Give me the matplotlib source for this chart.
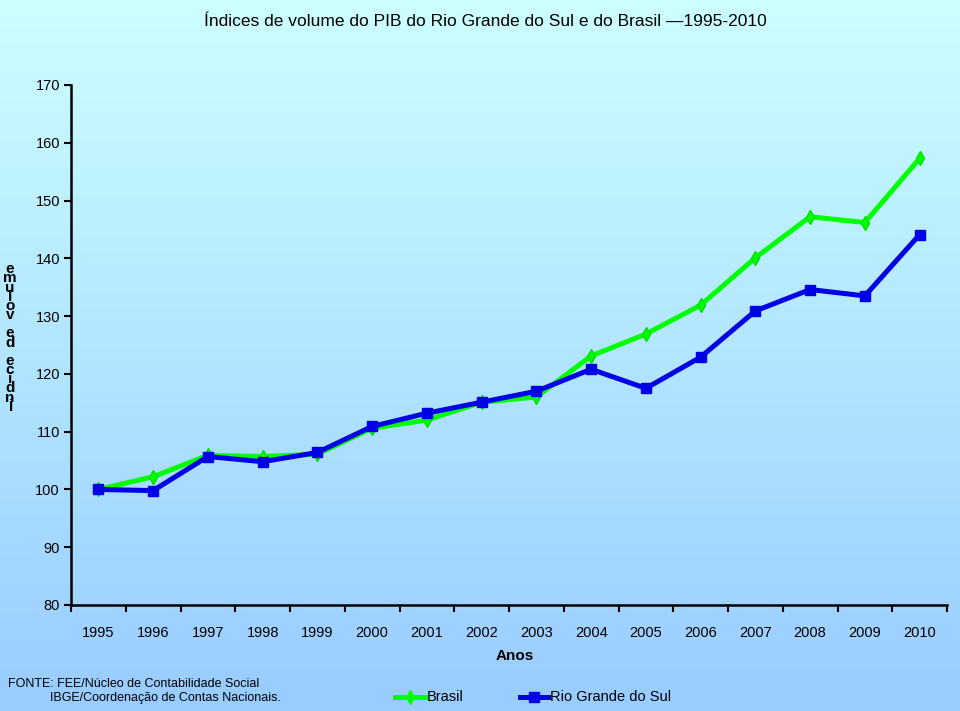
import numpy as np
import matplotlib
matplotlib.use("Agg")
import matplotlib.pyplot as plt
from matplotlib.lines import Line2D
from matplotlib import font_manager

years = ["1995", "1996", "1997", "1998", "1999", "2000", "2001", "2002",
         "2003", "2004", "2005", "2006", "2007", "2008", "2009", "2010"]
brasil = [100.0, 102.2, 105.9, 105.7, 106.1, 110.6, 112.0, 115.1,
          116.0, 123.1, 126.9, 131.9, 140.1, 147.2, 146.2, 157.3]
rgs = [100.0, 99.8, 105.7, 104.8, 106.4, 110.9, 113.2, 115.1,
       117.0, 120.8, 117.5, 122.9, 130.9, 134.6, 133.5, 144.1]
yticks = [80, 90, 100, 110, 120, 130, 140, 150, 160, 170]

names = {f.name for f in font_manager.fontManager.ttflist}
fam = "Liberation Sans Narrow" if "Liberation Sans Narrow" in names else "Liberation Sans"
plt.rcParams["font.family"] = [fam, "DejaVu Sans"]

GREEN = "#00FF00"
BLUE = "#0000E6"

fig = plt.figure(figsize=(9.6, 7.11), dpi=100)

# background gradient
bg = fig.add_axes([0, 0, 1, 1], zorder=-10)
grad = np.linspace(0, 1, 256).reshape(-1, 1)
top = np.array([204, 255, 255]) / 255
bot = np.array([153, 204, 255]) / 255
img = top[None, None, :] * (1 - grad[:, :, None]) + bot[None, None, :] * grad[:, :, None]
bg.imshow(img, aspect="auto", extent=[0, 1, 0, 1], origin="upper")
bg.set_axis_off()

ax = fig.add_axes([71 / 960, 1 - 605 / 711, (947 - 71) / 960, (605 - 85) / 711])
ax.patch.set_alpha(0)
x = np.arange(len(years))
ax.plot(x, brasil, color=GREEN, lw=3.6, marker="d", ms=7, mec="#00E000",
        label="Brasil", zorder=3)
ax.plot(x, rgs, color=BLUE, lw=3.6, marker="s", ms=7.5,
        label="Rio Grande do Sul", zorder=4)

ax.set_xlim(-0.5, len(years) - 0.5)
ax.set_ylim(80, 170)
ax.set_yticks(yticks)
ax.set_yticklabels([str(v) for v in yticks], fontsize=10.5)
ax.set_xticks(x)
ax.set_xticklabels(years, fontsize=10.5)
ax.tick_params(axis="x", which="major", length=0, pad=15)
ax.set_xticks(np.arange(-0.5, len(years), 1.0), minor=True)
ax.tick_params(axis="x", which="minor", length=5, width=1.5, direction="out")
ax.tick_params(axis="y", length=5, width=1.5, direction="out", pad=3)
for s in ["top", "right"]:
    ax.spines[s].set_visible(False)
for s in ["left", "bottom"]:
    ax.spines[s].set_linewidth(1.8)

fig.text(485 / 960, 1 - 22 / 711,
         "Índices de volume do PIB do Rio Grande do Sul e do Brasil —1995-2010",
         ha="center", va="center", fontsize=12.5)
fig.text(515 / 960, 1 - 656 / 711, "Anos", ha="center", va="center",
         fontsize=11, fontweight="bold")

# stacked y-axis label (as rendered in the original): one multi-line text
ylab = "Índice de volume"
stacked = "\n".join(reversed(ylab))
fig.text(10 / 960, 1 - 338 / 711, stacked, ha="center", va="center",
         fontsize=11, fontweight="bold", linespacing=0.56, multialignment="center")

fig.text(8 / 960, 1 - 684 / 711, "FONTE: FEE/Núcleo de Contabilidade Social",
         ha="left", va="center", fontsize=9)
fig.text(50 / 960, 1 - 698 / 711, "IBGE/Coordenação de Contas Nacionais.",
         ha="left", va="center", fontsize=9)

# legend
ly = 1 - 697 / 711
for (x0, x1, col, mk, label) in [(395, 425, GREEN, "d", "Brasil"),
                                 (520, 548, BLUE, "s", "Rio Grande do Sul")]:
    fig.add_artist(Line2D([x0 / 960, x1 / 960], [ly, ly], transform=fig.transFigure,
                          color=col, lw=3.6))
    fig.add_artist(Line2D([(x0 + x1) / 2 / 960], [ly], transform=fig.transFigure,
                          color=col, marker=mk, ms=7.5, lw=0))
    fig.text((x1 + 2) / 960, ly, label, ha="left", va="center", fontsize=10.5)

fig.savefig("out.png", dpi=100)
